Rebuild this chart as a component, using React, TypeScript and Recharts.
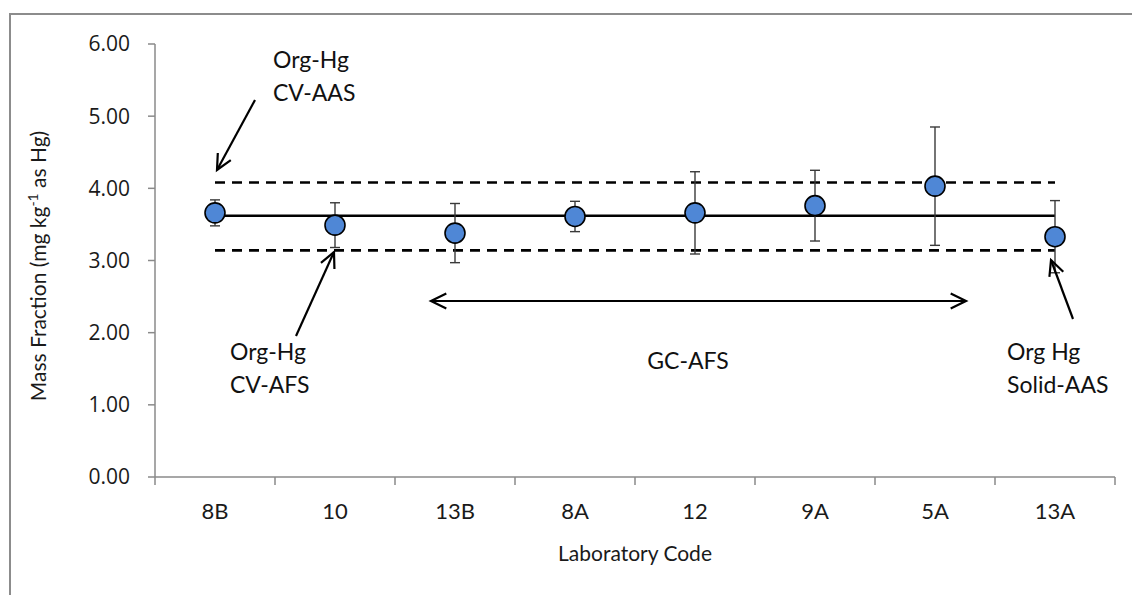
import { ComposedChart, Line, XAxis, YAxis, ErrorBar } from 'recharts';

// laboratory results, mg/kg as Hg
const LABS = ['8B', '10', '13B', '8A', '12', '9A', '5A', '13A'];
const MEANS = [3.66, 3.49, 3.38, 3.61, 3.66, 3.76, 4.03, 3.33];
const UNCERTAINTY = [0.18, 0.31, 0.41, 0.21, 0.57, 0.49, 0.82, 0.5];

// consensus value and its limits
const CONSENSUS = 3.62;
const LIMIT_LOW = 3.14;
const LIMIT_HIGH = 4.08;

const Y_TICKS = [0, 1, 2, 3, 4, 5, 6];

const data = LABS.map((lab, i) => ({
  lab,
  value: MEANS[i],
  err: UNCERTAINTY[i],
  consensus: CONSENSUS,
  low: LIMIT_LOW,
  high: LIMIT_HIGH,
}));

const AXIS = '#8a8a8a';
const LABEL_FONT = 'Lato, "Noto Sans", sans-serif';

const XTick = (props: any) => {
  const { x, y, payload, index, visibleTicksCount, width } = props;
  const band = width / visibleTicksCount;
  const last = index === visibleTicksCount - 1;
  return (
    <g>
      <line x1={x - band / 2} y1={y} x2={x - band / 2} y2={y + 8} stroke={AXIS} strokeWidth={1.5} />
      {last && <line x1={x + band / 2} y1={y} x2={x + band / 2} y2={y + 8} stroke={AXIS} strokeWidth={1.5} />}
      <text x={x} y={y + 42} textAnchor="middle" fontFamily={LABEL_FONT} fontSize={22} fill="#1a1a1a">
        {payload.value}
      </text>
    </g>
  );
};

function arrowHead(tx: number, ty: number, fx: number, fy: number, len = 17, spread = 0.45) {
  const a = Math.atan2(fy - ty, fx - tx);
  const p1 = [tx + len * Math.cos(a - spread), ty + len * Math.sin(a - spread)];
  const p2 = [tx + len * Math.cos(a + spread), ty + len * Math.sin(a + spread)];
  return `M${p1[0]},${p1[1]} L${tx},${ty} L${p2[0]},${p2[1]}`;
}

const Arrow = ({ from, to, both }: { from: [number, number]; to: [number, number]; both?: boolean }) => (
  <g stroke="#000" strokeWidth={2.2} fill="none">
    <line x1={from[0]} y1={from[1]} x2={to[0]} y2={to[1]} />
    <path d={arrowHead(to[0], to[1], from[0], from[1])} />
    {both && <path d={arrowHead(from[0], from[1], to[0], to[1])} />}
  </g>
);

const Note = ({ x, y, lines, anchor = 'start' }: { x: number; y: number; lines: string[]; anchor?: string }) => (
  <text x={x} y={y} fontFamily={LABEL_FONT} fontSize={23} fill="#111" textAnchor={anchor as any}>
    {lines.map((l, i) => (
      <tspan key={l} x={x} dy={i === 0 ? 0 : 33}>
        {l}
      </tspan>
    ))}
  </text>
);

export default function App() {
  return (
    <div style={{ position: 'fixed', left: 0, top: 0, width: 1132, height: 595, background: '#fff', overflow: 'hidden' }}>
      <div
        style={{
          position: 'absolute',
          left: 9,
          top: 13,
          width: 1200,
          height: 700,
          borderTop: '2px solid #8c8c8c',
          borderLeft: '2px solid #8c8c8c',
        }}
      />
      <div style={{ position: 'absolute', left: 0, top: 0 }}>
        <ComposedChart width={1132} height={595} data={data} margin={{ top: 44, right: 17, bottom: 28, left: 80 }}>
          <XAxis
            dataKey="lab"
            height={90}
            padding={{ left: 60, right: 60 }}
            stroke={AXIS}
            strokeWidth={1.5}
            tickLine={false}
            tickSize={0}
            tickMargin={0}
            tick={<XTick />}
            interval={0}
            label={{
              value: 'Laboratory Code',
              position: 'insideBottom',
              offset: 6,
              fontFamily: LABEL_FONT,
              fontSize: 21,
              fill: '#1a1a1a',
            }}
          />
          <YAxis
            width={75}
            domain={[0, 6]}
            ticks={Y_TICKS}
            tickFormatter={(v: number) => v.toFixed(2)}
            stroke={AXIS}
            strokeWidth={1.5}
            tickSize={7}
            tickMargin={18}
            tick={{ fontFamily: '"Open Sans", sans-serif', fontSize: 21, fill: '#1a1a1a' }}
          />
          <Line dataKey="high" stroke="#000" strokeWidth={2.6} strokeDasharray="10 7" dot={false} isAnimationActive={false} />
          <Line dataKey="low" stroke="#000" strokeWidth={2.6} strokeDasharray="10 7" dot={false} isAnimationActive={false} />
          <Line dataKey="consensus" stroke="#000" strokeWidth={2.6} dot={false} isAnimationActive={false} />
          <Line
            dataKey="value"
            stroke="none"
            dot={{ r: 10, fill: '#4F87D6', stroke: '#000', strokeWidth: 1.6 }}
            isAnimationActive={false}
          >
            <ErrorBar dataKey="err" direction="y" width={5} stroke="#3a3a3a" strokeWidth={1.4} />
          </Line>
        </ComposedChart>
      </div>
      <svg width={1132} height={595} style={{ position: 'absolute', left: 0, top: 0, pointerEvents: 'none' }}>
        <text
          transform="translate(46,266) rotate(-90)"
          textAnchor="middle"
          fontFamily={LABEL_FONT}
          fontSize={21}
          fill="#1a1a1a"
        >
          Mass Fraction (mg kg
          <tspan dy={-8} fontSize={14}>-1</tspan>
          <tspan dy={8}> as Hg)</tspan>
        </text>

        <Note x={273} y={68} lines={['Org-Hg', 'CV-AAS']} />
        <Arrow from={[255, 100]} to={[217, 170]} />

        <Note x={230} y={360} lines={['Org-Hg', 'CV-AFS']} />
        <Arrow from={[296, 336]} to={[334, 252]} />

        <Arrow from={[431, 301]} to={[966, 301]} both />
        <Note x={688} y={369} lines={['GC-AFS']} anchor="middle" />

        <Note x={1007} y={360} lines={['Org Hg', 'Solid-AAS']} />
        <Arrow from={[1073, 319]} to={[1051, 260]} />
      </svg>
    </div>
  );
}
